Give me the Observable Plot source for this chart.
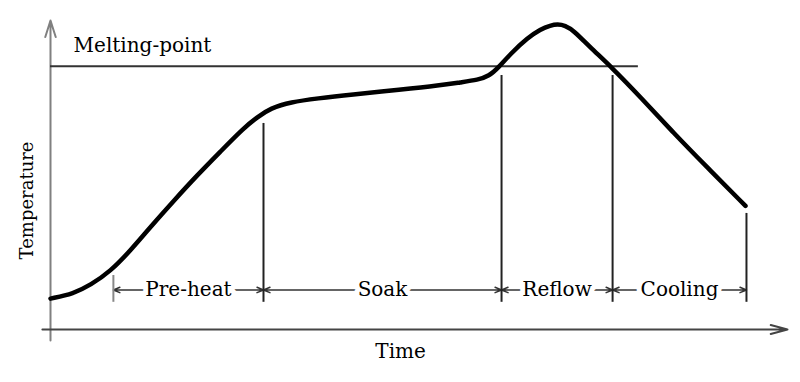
<!DOCTYPE html>
<html>
<head>
<meta charset="utf-8">
<script src="https://cdn.jsdelivr.net/npm/d3@7"></script>
<script src="https://cdn.jsdelivr.net/npm/@observablehq/plot@0.6"></script>
<style>
  html, body { margin: 0; padding: 0; background: #fff; }
  #chart svg { display: block; }
</style>
</head>
<body>
<div id="chart"></div>
<script>
// Reflow temperature profile (time in arbitrary seconds, temperature in arbitrary °C)
const time = [0, 9.4, 16.3, 24.4, 32.6, 40.7, 50.1, 59.8, 69.2, 78.6, 84.3, 89.6, 97.7, 108.7, 122.1, 142.5, 158.7, 166.9, 174.0, 178.5, 182.4, 187.2, 194.2, 199.5, 203.5, 206.4, 209.5, 212.9, 219.8, 228.0, 240.2, 253.6, 267.4, 282.9];
const temp = [25, 29, 36, 47, 64, 83, 104, 125, 144, 163, 172, 179, 184, 187, 190, 194, 197.5, 200, 202, 205, 212, 223, 236, 243, 246, 247, 246, 242, 228, 213, 188, 159, 131, 100];

const meltingPoint = 213;
const meltingLabel = "Melting-point";

// Phase boundaries
const phaseNames = ["Pre-heat", "Soak", "Reflow", "Cooling"];
const phaseStart = [25.6, 86.7, 183.6, 228.8];
const phaseEnd = [86.7, 183.6, 228.8, 283.3];
const boundaryTime = [25.6, 86.7, 183.6, 228.8, 283.3];
const boundaryTop = [43.7, 166.7, 205.5, 205.5, 93.9];
const dimLevel = 32;

const xLabel = "Time";
const yLabel = "Temperature";

const profile = time.map((t, i) => ({t, T: temp[i]}));
const phases = phaseNames.map((name, i) => ({name, s: phaseStart[i], e: phaseEnd[i], m: (phaseStart[i] + phaseEnd[i]) / 2}));
const bounds = boundaryTime.map((t, i) => ({t, top: boundaryTop[i], first: i === 0}));

const font = "DejaVu Serif";

const chart = Plot.plot({
  width: 800,
  height: 382,
  marginLeft: 50,
  marginRight: 13,
  marginTop: 20,
  marginBottom: 53,
  x: {domain: [0, 300], axis: null},
  y: {domain: [0, 250], axis: null},
  style: {fontFamily: font, background: "#fff"},
  marks: [
    // axes with arrowheads
    Plot.arrow([{x1: 0, y1: -8.9, x2: 0, y2: 250}], {x1: "x1", y1: "y1", x2: "x2", y2: "y2", stroke: "#808080", strokeWidth: 2, headLength: 13, headAngle: 35}),
    Plot.arrow([{x1: -3.3, y1: 0, x2: 300, y2: 0}], {x1: "x1", y1: "y1", x2: "x2", y2: "y2", stroke: "#444", strokeWidth: 2, headLength: 13, headAngle: 30}),
    // melting-point line
    Plot.ruleY([meltingPoint], {x1: 0, x2: 239.3, stroke: "#333", strokeWidth: 2}),
    Plot.text([meltingLabel], {x: 9.4, y: 229.8, text: d => d, textAnchor: "start", fontSize: 20, fill: "#000", fontFamily: font}),
    // dimension arrows
    Plot.arrow(phases, {x1: "m", x2: "s", y1: dimLevel, y2: dimLevel, stroke: "#333", strokeWidth: 1.5, headLength: 7, headAngle: 45}),
    Plot.arrow(phases, {x1: "m", x2: "e", y1: dimLevel, y2: dimLevel, stroke: "#333", strokeWidth: 1.5, headLength: 7, headAngle: 45}),
    Plot.text(phases, {x: "m", y: dimLevel, text: "name", fontSize: 20, fill: "#000", stroke: "#fff", strokeWidth: 10, fontFamily: font}),
    // boundary lines
    Plot.ruleX(bounds, {x: "t", y1: 22, y2: "top", stroke: d => d.first ? "#888" : "#222", strokeWidth: 2}),
    // profile curve
    Plot.line(profile, {x: "t", y: "T", curve: "basis", stroke: "#000", strokeWidth: 4.5, strokeLinecap: "round"}),
    // axis labels
    Plot.text([xLabel], {x: 142.5, y: -17.5, text: d => d, fontSize: 20, fill: "#000", fontFamily: font}),
    Plot.text([yLabel], {x: -9.5, y: 104.4, text: d => d, rotate: -90, fontSize: 18, fill: "#000", fontFamily: font})
  ]
});
document.getElementById("chart").appendChild(chart);
</script>
</body>
</html>
